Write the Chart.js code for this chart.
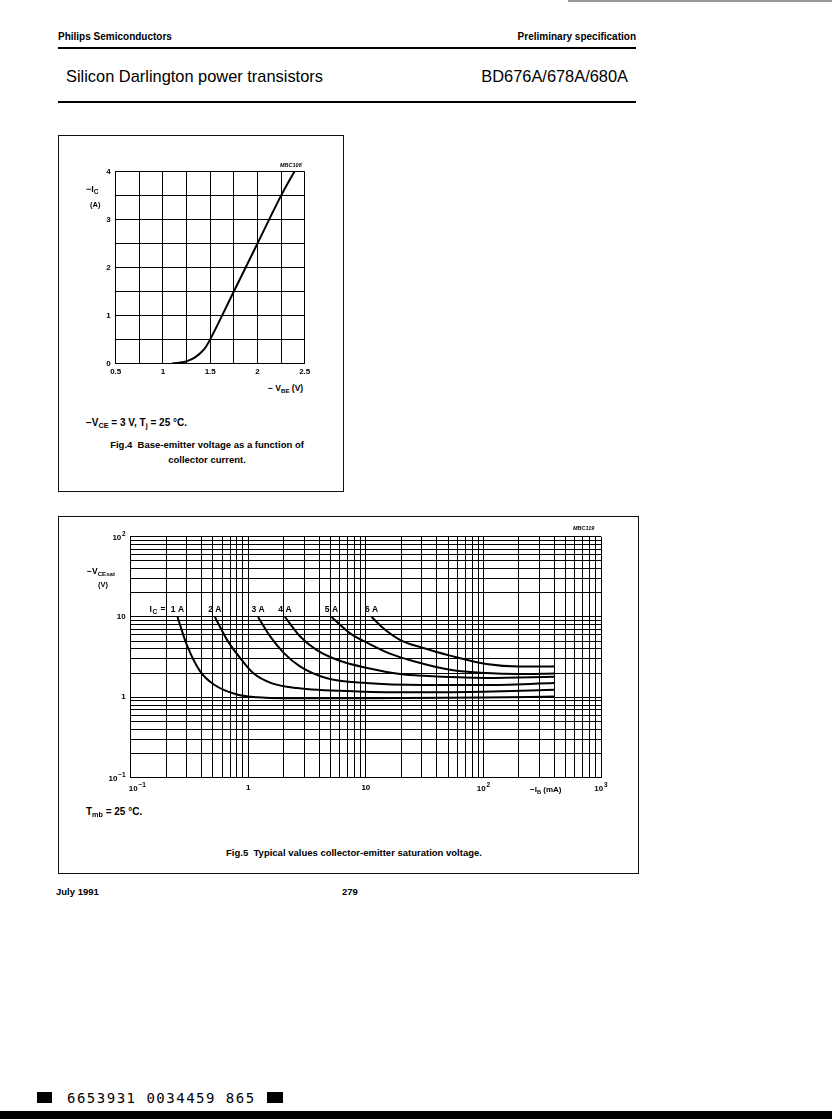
<!DOCTYPE html>
<html><head><meta charset="utf-8">
<script src="https://cdn.jsdelivr.net/npm/chart.js@4.4.1/dist/chart.umd.min.js"></script>
<style>
html,body{margin:0;padding:0;background:#fff}
body{width:832px;height:1119px;position:relative;overflow:hidden;font-family:"Liberation Sans",Arial,Helvetica,sans-serif;color:#000}
.t{position:absolute;white-space:nowrap;line-height:1}
.b{font-weight:bold}
.sb{font-size:72%;position:relative;top:0.3em}
canvas{position:absolute}
.box{position:absolute;border:1px solid #111;box-sizing:border-box}
.hr{position:absolute;background:#000}
</style></head><body>

<div class="hr" style="left:568px;top:0;width:264px;height:2px;background:#999"></div>
<div class="t b" style="left:58px;top:32px;font-size:10px">Philips Semiconductors</div>
<div class="t b" style="right:196px;top:32px;font-size:10px">Preliminary specification</div>
<div class="hr" style="left:58px;top:47px;width:578px;height:2px"></div>
<div class="t" style="left:66px;top:68px;font-size:16.4px">Silicon Darlington power transistors</div>
<div class="t" style="right:204px;top:68px;font-size:16.4px">BD676A/678A/680A</div>
<div class="hr" style="left:58px;top:101px;width:578px;height:2px"></div>

<div class="box" style="left:58px;top:135px;width:286px;height:357px"></div>
<canvas id="c1" width="260" height="240" style="left:60px;top:140px;width:260px;height:240px"></canvas>
<div class="t b" style="left:280px;top:163px;font-size:5.5px;font-style:italic">MBC108</div>
<div class="t b" style="left:86px;top:185px;font-size:9px">−I<span class="sb">C</span></div>
<div class="t b" style="left:90px;top:201px;font-size:7.5px">(A)</div>
<div class="t b" style="left:268px;top:384px;font-size:8.5px">− V<span class="sb">BE</span> (V)</div>
<div class="t b" style="left:86px;top:418px;font-size:10px">−V<span class="sb">CE</span> = 3 V, T<span class="sb">j</span> = 25 °C.</div>
<div class="t b" style="left:207px;top:440px;font-size:9.5px;transform:translateX(-50%)">Fig.4&nbsp; Base-emitter voltage as a function of</div>
<div class="t b" style="left:207px;top:455px;font-size:9.5px;transform:translateX(-50%)">collector current.</div>

<div class="box" style="left:58px;top:516px;width:581px;height:358px"></div>
<canvas id="c2" width="570" height="285" style="left:60px;top:520px;width:570px;height:285px"></canvas>
<div class="t b" style="left:573px;top:526px;font-size:5.5px;font-style:italic">MBC119</div>
<div class="t b" style="left:87px;top:567px;font-size:8.5px">−V<span class="sb">CEsat</span></div>
<div class="t b" style="left:98px;top:581px;font-size:7.5px">(V)</div>
<div class="t b" style="left:530px;top:786px;font-size:8px">−I<span class="sb">B</span> (mA)</div>
<div class="t b" style="left:86px;top:807px;font-size:10px">T<span class="sb">mb</span> = 25 °C.</div>
<div class="t b" style="left:354px;top:848px;font-size:9.5px;transform:translateX(-50%)">Fig.5&nbsp; Typical values collector-emitter saturation voltage.</div>

<div class="t b" style="left:56px;top:887px;font-size:9.5px">July 1991</div>
<div class="t b" style="left:342px;top:887px;font-size:9.5px">279</div>

<div class="hr" style="left:37px;top:1092px;width:15px;height:11px"></div>
<div class="t" style="left:67px;top:1091px;font-size:14px;font-family:'DejaVu Sans Mono',monospace;letter-spacing:1.5px">6653931 0034459 865</div>
<div class="hr" style="left:267px;top:1092px;width:16px;height:11px"></div>
<div class="hr" style="left:0;top:1111px;width:832px;height:8px"></div>

<script>
// ---- Fig.4 data: -VBE (V) vs -IC (A)
const vbe = [1.10, 1.15, 1.20, 1.25, 1.30, 1.35, 1.40, 1.45, 1.50, 1.75, 2.00, 2.25, 2.39];
const ic  = [0.00, 0.005, 0.02, 0.04, 0.08, 0.14, 0.22, 0.33, 0.50, 1.50, 2.50, 3.50, 4.00];
const fig4XTickLabels = ['0.5', '1', '1.5', '2', '2.5'];
const fig4YTickLabels = ['0', '1', '2', '3', '4'];

// ---- Fig.5 data: -IB (mA) vs -VCEsat (V), one series per IC
const curveLabels = ['1 A', '2 A', '3 A', '4 A', '5 A', '6 A'];
const ib1 = [0.25, 0.30, 0.39, 0.51, 0.80, 1.2, 2, 10, 100, 400];
const vce1 = [10, 4.5, 2.1, 1.44, 1.08, 1.0, 0.97, 0.97, 0.99, 1.02];
const ib2 = [0.52, 0.67, 0.85, 1.1, 1.57, 2.6, 8.6, 30, 100, 400];
const vce2 = [10, 5.0, 3.1, 2.0, 1.5, 1.3, 1.18, 1.15, 1.17, 1.24];
const ib3 = [1.21, 1.53, 2.0, 2.75, 4.6, 10, 30, 100, 400];
const vce3 = [10, 5.76, 3.57, 2.43, 1.74, 1.5, 1.42, 1.42, 1.5];
const ib4 = [2.05, 2.75, 3.8, 6.0, 10.5, 19.5, 31, 106, 400];
const vce4 = [10, 5.75, 3.9, 2.85, 2.3, 1.95, 1.85, 1.74, 1.8];
const ib5 = [5.1, 7.3, 10.5, 16, 27, 52, 106, 200, 400];
const vce5 = [10, 6.3, 4.7, 3.5, 2.75, 2.2, 2.0, 1.95, 1.98];
const ib6 = [11.2, 14, 19.5, 30.8, 52, 106, 200, 400];
const vce6 = [10, 7.3, 5.2, 4.1, 3.3, 2.6, 2.42, 2.42];
const fig5XTickValues = [0.1, 1, 10, 100, 1000];
const fig5XTickLabels = ['10^−1', '1', '10', '10^2', '10^3'];
const fig5YTickValues = [0.1, 1, 10, 100];
const fig5YTickLabels = ['10^−1', '1', '10', '10^2'];

const tickFont = {family: 'Liberation Sans', size: 8, weight: 'bold'};
const gridOpt = {color: '#000', lineWidth: 1, drawTicks: false};
const borderOpt = {color: '#000', width: 1};

new Chart(document.getElementById('c1'), {
  type: 'line',
  data: { datasets: [{
    data: vbe.map((x, i) => ({x, y: ic[i]})),
    borderColor: '#000', borderWidth: 2, pointRadius: 0,
    cubicInterpolationMode: 'monotone', fill: false }] },
  options: {
    responsive: false, animation: false, devicePixelRatio: 1,
    layout: {padding: {left: 0, right: 15.3, top: 31.7, bottom: 0}},
    plugins: {legend: {display: false}, tooltip: {enabled: false}},
    scales: {
      x: { type: 'linear', min: 0.5, max: 2.5,
        afterFit: s => { s.height = 16.7; },
        ticks: { stepSize: 0.25, autoSkip: false, maxRotation: 0, padding: 4, color: '#000', font: tickFont,
          callback: v => { const l = fig4XTickLabels.find(t => Math.abs(parseFloat(t) - v) < 1e-6); return l || ''; } },
        grid: gridOpt, border: borderOpt },
      y: { type: 'linear', min: 0, max: 4,
        afterFit: s => { s.width = 55.7; },
        ticks: { stepSize: 0.5, autoSkip: false, padding: 5, color: '#000', font: tickFont,
          callback: v => { const l = fig4YTickLabels.find(t => Math.abs(parseFloat(t) - v) < 1e-6); return l || ''; } },
        grid: gridOpt, border: borderOpt }
    }
  }
});

function logTicks(minExp, maxExp) {
  const out = [];
  for (let e = minExp; e < maxExp; e++) for (let m = 1; m <= 9; m++) out.push({value: +(m * Math.pow(10, e)).toPrecision(6)});
  out.push({value: Math.pow(10, maxExp)});
  return out;
}
// plain labels are drawn by Chart.js; labels with an exponent are drawn by the plugin below
function pick(values, labels) {
  return v => { const i = values.findIndex(t => Math.abs(t - v) / t < 1e-6); return (i < 0 || labels[i].includes('^')) ? '' : labels[i]; };
}

const series = [[ib1, vce1], [ib2, vce2], [ib3, vce3], [ib4, vce4], [ib5, vce5], [ib6, vce6]];

function drawPow(ctx, label, x, y, align) {
  const [base, exp] = label.split('^');
  ctx.font = 'bold 8px "Liberation Sans"';
  const wb = ctx.measureText(base).width;
  ctx.font = 'bold 6.5px "Liberation Sans"';
  const we = ctx.measureText(exp).width;
  const w = wb + we + 0.8;
  const x0 = align === 'right' ? x - w : align === 'center' ? x - w / 2 : x;
  ctx.textAlign = 'left';
  ctx.font = 'bold 8px "Liberation Sans"';
  ctx.fillText(base, x0, y);
  ctx.font = 'bold 6.5px "Liberation Sans"';
  ctx.fillText(exp, x0 + wb + 0.8, y - 4);
}

const powLabelPlugin = {
  id: 'powLabels',
  afterDraw(chart) {
    const ctx = chart.ctx, xs = chart.scales.x, ys = chart.scales.y, a = chart.chartArea;
    ctx.save();
    ctx.fillStyle = '#000';
    ctx.textBaseline = 'alphabetic';
    fig5YTickValues.forEach((v, i) => {
      if (fig5YTickLabels[i].includes('^')) drawPow(ctx, fig5YTickLabels[i], a.left - 5, ys.getPixelForValue(v) + 3, 'right');
    });
    fig5XTickValues.forEach((v, i) => {
      if (fig5XTickLabels[i].includes('^')) {
        const px = xs.getPixelForValue(v);
        drawPow(ctx, fig5XTickLabels[i], i === 0 ? px - 2 : px, a.bottom + 13, i === 0 ? 'left' : 'center');
      }
    });
    ctx.restore();
  }
};

const curveLabelPlugin = {
  id: 'curveLabels',
  afterDatasetsDraw(chart) {
    const ctx = chart.ctx, xs = chart.scales.x, ys = chart.scales.y;
    ctx.save();
    ctx.fillStyle = '#000';
    ctx.textBaseline = 'alphabetic';
    series.forEach((s, i) => {
      const px = xs.getPixelForValue(s[0][0]);
      const py = ys.getPixelForValue(s[1][0]) - 5;
      ctx.font = 'bold 8.5px "Liberation Sans"';
      ctx.textAlign = 'center';
      ctx.fillText(curveLabels[i], px, py);
      if (i === 0) {
        ctx.textAlign = 'left';
        ctx.fillText('I', px - 28, py);
        ctx.font = 'bold 6.5px "Liberation Sans"';
        ctx.fillText('C', px - 25, py + 2);
        ctx.font = 'bold 8.5px "Liberation Sans"';
        ctx.fillText('=', px - 17, py);
      }
    });
    ctx.restore();
  }
};

new Chart(document.getElementById('c2'), {
  type: 'line',
  data: { datasets: series.map(s => ({
    data: s[0].map((x, i) => ({x, y: s[1][i]})),
    borderColor: '#000', borderWidth: 2, pointRadius: 0,
    cubicInterpolationMode: 'monotone', fill: false })) },
  options: {
    responsive: false, animation: false, devicePixelRatio: 1,
    layout: {padding: {left: 0, right: 29, top: 16.7, bottom: 0}},
    plugins: {legend: {display: false}, tooltip: {enabled: false}},
    scales: {
      x: { type: 'logarithmic', min: 0.1, max: 1000,
        afterBuildTicks: s => { s.ticks = logTicks(-1, 3); },
        afterFit: s => { s.height = 27.5; },
        ticks: { autoSkip: false, maxRotation: 0, padding: 5, color: '#000', font: tickFont,
          callback: pick(fig5XTickValues, fig5XTickLabels) },
        grid: gridOpt, border: borderOpt },
      y: { type: 'logarithmic', min: 0.1, max: 100,
        afterBuildTicks: s => { s.ticks = logTicks(-1, 2); },
        afterFit: s => { s.width = 70.7; },
        ticks: { autoSkip: false, padding: 5, color: '#000', font: tickFont,
          callback: pick(fig5YTickValues, fig5YTickLabels) },
        grid: gridOpt, border: borderOpt }
    }
  },
  plugins: [curveLabelPlugin, powLabelPlugin]
});
</script>
</body></html>
